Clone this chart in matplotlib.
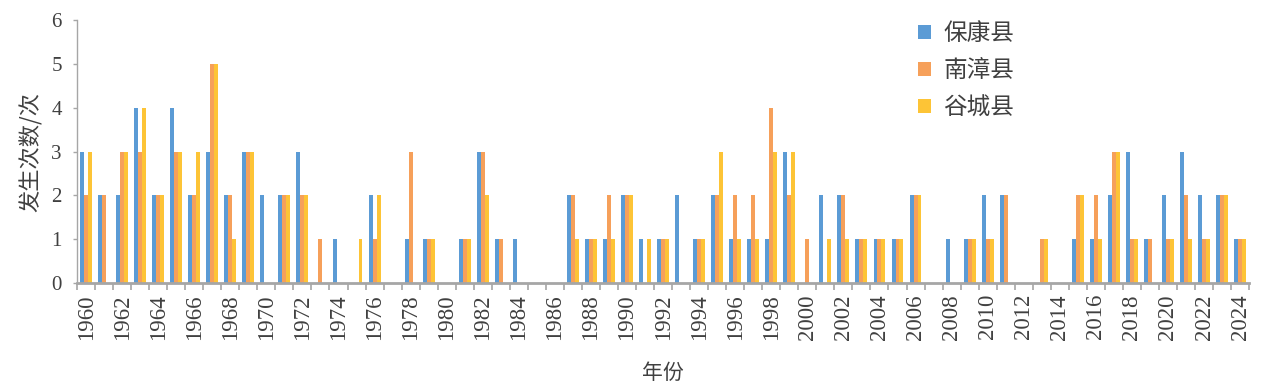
import numpy as np
import matplotlib
matplotlib.use("Agg")
import matplotlib.pyplot as plt

years = list(range(1960, 2025))
baokang = [3, 2, 2, 4, 2, 4, 2, 3, 2, 3, 2, 2, 3, 0, 1, 0, 2, 0, 1, 1,
           0, 1, 3, 1, 1, 0, 0, 2, 1, 1, 2, 1, 1, 2, 1, 2, 1, 1, 1, 3,
           0, 2, 2, 1, 1, 1, 2, 0, 1, 1, 2, 2, 0, 0, 0, 1, 1, 2, 3, 1,
           2, 3, 2, 2, 1]
nanzhang = [2, 2, 3, 3, 2, 3, 2, 5, 2, 3, 0, 2, 2, 1, 0, 0, 1, 0, 3, 1,
            0, 1, 3, 1, 0, 0, 0, 2, 1, 2, 2, 0, 1, 0, 1, 2, 2, 2, 4, 2,
            1, 0, 2, 1, 1, 1, 2, 0, 0, 1, 1, 2, 0, 1, 0, 2, 2, 3, 1, 1,
            1, 2, 1, 2, 1]
gucheng = [3, 0, 3, 4, 2, 3, 3, 5, 1, 3, 0, 2, 2, 0, 0, 1, 2, 0, 0, 1,
           0, 1, 2, 0, 0, 0, 0, 1, 1, 1, 2, 1, 1, 0, 1, 3, 1, 1, 3, 3,
           0, 1, 1, 1, 1, 1, 2, 0, 0, 1, 1, 0, 0, 1, 0, 2, 1, 3, 1, 0,
           1, 1, 1, 2, 1]
series_names = ["保康县", "南漳县", "谷城县"]
colors = ["#5b9bd5", "#f6a05a", "#fdc436"]

serif = "Liberation Serif"
cjk = ["Noto Sans CJK SC", "DejaVu Sans"]
text_color = "#404040"
axis_color = "#a6a6a6"

fig = plt.figure(figsize=(12.63, 3.87), dpi=100)
ax = fig.add_axes([0.0610, 0.2687, 0.9280, 0.6795])

x = np.arange(len(years))
w = 0.22
for i, (vals, name, c) in enumerate(zip([baokang, nanzhang, gucheng], series_names, colors)):
    ax.bar(x + (i - 1) * w, vals, width=w, color=c, label=name, linewidth=0)

ax.set_xlim(-0.5, len(years) - 0.5)
ax.set_ylim(0, 6)

# x axis: labels on every other year, tick marks at category borders
ax.set_xticks(x[::2])
ax.set_xticklabels([str(y) for y in years[::2]], rotation=90,
                   fontfamily=serif, fontsize=16.5, color=text_color)
ax.set_xticks(np.arange(len(years) + 1) - 0.5, minor=True)
ax.tick_params(axis="x", which="major", length=0, pad=8)
ax.tick_params(axis="x", which="minor", length=5, width=1.2, color=axis_color, direction="out")

ax.set_yticks(range(0, 7))
ax.set_yticklabels([str(v) for v in range(0, 7)], fontfamily=serif, fontsize=15, color=text_color)
ax.tick_params(axis="y", length=3, width=1, color=axis_color, pad=8)

for side in ["top", "right"]:
    ax.spines[side].set_visible(False)
ax.spines["left"].set_color(axis_color)
ax.spines["left"].set_linewidth(1.0)
ax.spines["bottom"].set_color(axis_color)
ax.spines["bottom"].set_linewidth(2.0)

ax.set_ylabel("发生次数/次", family=cjk, fontsize=16, color=text_color, labelpad=6)
ax.set_xlabel("年份", family=cjk, fontsize=15, color=text_color, labelpad=16)

leg = ax.legend(loc="upper left", bbox_to_anchor=(0.703, 1.055), frameon=False,
                prop={"family": cjk, "size": 17}, handlelength=0.55, handleheight=0.55,
                handletextpad=0.55, labelspacing=0.6, borderpad=0.2)
for t in leg.get_texts():
    t.set_color(text_color)

fig.savefig("out.png", dpi=100)
